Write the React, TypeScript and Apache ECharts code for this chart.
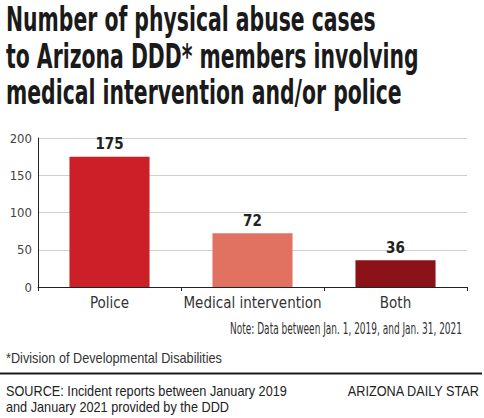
import React, { useEffect, useRef } from "react";
import * as echarts from "echarts";

const categories = ["Police", "Medical intervention", "Both"];
const values = [175, 72, 36];
const barColors = ["#cc1f27", "#e17262", "#8c121a"];
const yTicks = { min: 0, max: 200, interval: 50 };
const titleLines = [
  "Number of physical abuse cases",
  "to Arizona DDD* members involving",
  "medical intervention and/or police",
];
const noteText = "Note: Data between Jan. 1, 2019, and Jan. 31, 2021";
const footnoteText = "*Division of Developmental Disabilities";
const sourceLines = [
  "SOURCE: Incident reports between January 2019",
  "and January 2021 provided by the DDD",
];
const creditText = "ARIZONA DAILY STAR";

const NARROW = "'DejaVu Sans Condensed', 'Liberation Sans Narrow', sans-serif";
const SANS = "'Liberation Sans', Arial, sans-serif";

function measure(text: string, font: string): number {
  const c = document.createElement("canvas").getContext("2d");
  if (!c) return 0;
  c.font = font;
  return c.measureText(text).width;
}

function fit(text: string, font: string, target: number): number {
  const w = measure(text, font);
  return w > 0 ? target / w : 1;
}

export default function App() {
  const ref = useRef<HTMLDivElement>(null);
  useEffect(() => {
    document.body.style.margin = "0";
    if (!ref.current) return;
    const chart = echarts.init(ref.current, null, { renderer: "svg" });

    const titleFont = `bold 33px ${NARROW}`;
    const titleScale = fit(titleLines[1], titleFont, 413);
    const noteFont = `15px ${NARROW}`;
    const noteScale = fit(noteText, noteFont, 232);
    const footFont = `14px ${SANS}`;
    const footScale = fit(sourceLines[0], footFont, 281);

    const titleY = [20, 57, 93];
    const graphic: any[] = titleLines.map((t, i) => ({
      type: "text",
      x: 6,
      y: titleY[i],
      scaleX: titleScale,
      style: {
        text: t,
        font: titleFont,
        fill: "#1a1a1a",
        textAlign: "left",
        textVerticalAlign: "middle",
      },
    }));
    graphic.push({
      type: "text",
      x: 462,
      y: 329,
      scaleX: noteScale,
      style: {
        text: noteText,
        font: noteFont,
        fill: "#333",
        textAlign: "right",
        textVerticalAlign: "middle",
      },
    });
    graphic.push({
      type: "text",
      x: 6,
      y: 358,
      scaleX: footScale,
      style: {
        text: footnoteText,
        font: footFont,
        fill: "#333",
        textAlign: "left",
        textVerticalAlign: "middle",
      },
    });
    graphic.push({
      type: "line",
      shape: { x1: 0, y1: 373.5, x2: 482, y2: 373.5 },
      style: { stroke: "#1a1a1a", lineWidth: 2 },
    });
    sourceLines.forEach((t, i) => {
      graphic.push({
        type: "text",
        x: 6,
        y: 391 + i * 16,
        scaleX: footScale,
        style: {
          text: t,
          font: footFont,
          fill: "#222",
          textAlign: "left",
          textVerticalAlign: "middle",
        },
      });
    });
    graphic.push({
      type: "text",
      x: 479,
      y: 391,
      scaleX: footScale,
      style: {
        text: creditText,
        font: footFont,
        fill: "#222",
        textAlign: "right",
        textVerticalAlign: "middle",
      },
    });

    chart.setOption({
      animation: false,
      grid: { left: 38, right: 17, top: 138, bottom: 131, containLabel: false },
      xAxis: {
        type: "category",
        data: categories,
        axisLine: { show: true, lineStyle: { color: "#222", width: 1 } },
        axisTick: { show: true, length: 4, lineStyle: { color: "#222" } },
        axisLabel: {
          interval: 0,
          margin: 8,
          fontFamily: NARROW,
          fontSize: 15,
          color: "#333",
        },
      },
      yAxis: {
        type: "value",
        min: yTicks.min,
        max: yTicks.max,
        interval: yTicks.interval,
        axisLine: { show: true, lineStyle: { color: "#222", width: 1 } },
        axisTick: { show: false },
        axisLabel: {
          margin: 6,
          fontFamily: NARROW,
          fontSize: 13,
          color: "#444",
        },
        splitLine: { lineStyle: { color: "#cfcfcf", width: 1 } },
      },
      series: [
        {
          type: "bar",
          barWidth: "56%",
          data: values.map((v, i) => ({ value: v, itemStyle: { color: barColors[i] } })),
          label: {
            show: true,
            position: "top",
            distance: 5,
            fontFamily: NARROW,
            fontWeight: "bold",
            fontSize: 15,
            color: "#222",
          },
        },
      ],
      graphic,
    });
    return () => chart.dispose();
  }, []);
  return <div ref={ref} style={{ width: 484, height: 418 }} />;
}
